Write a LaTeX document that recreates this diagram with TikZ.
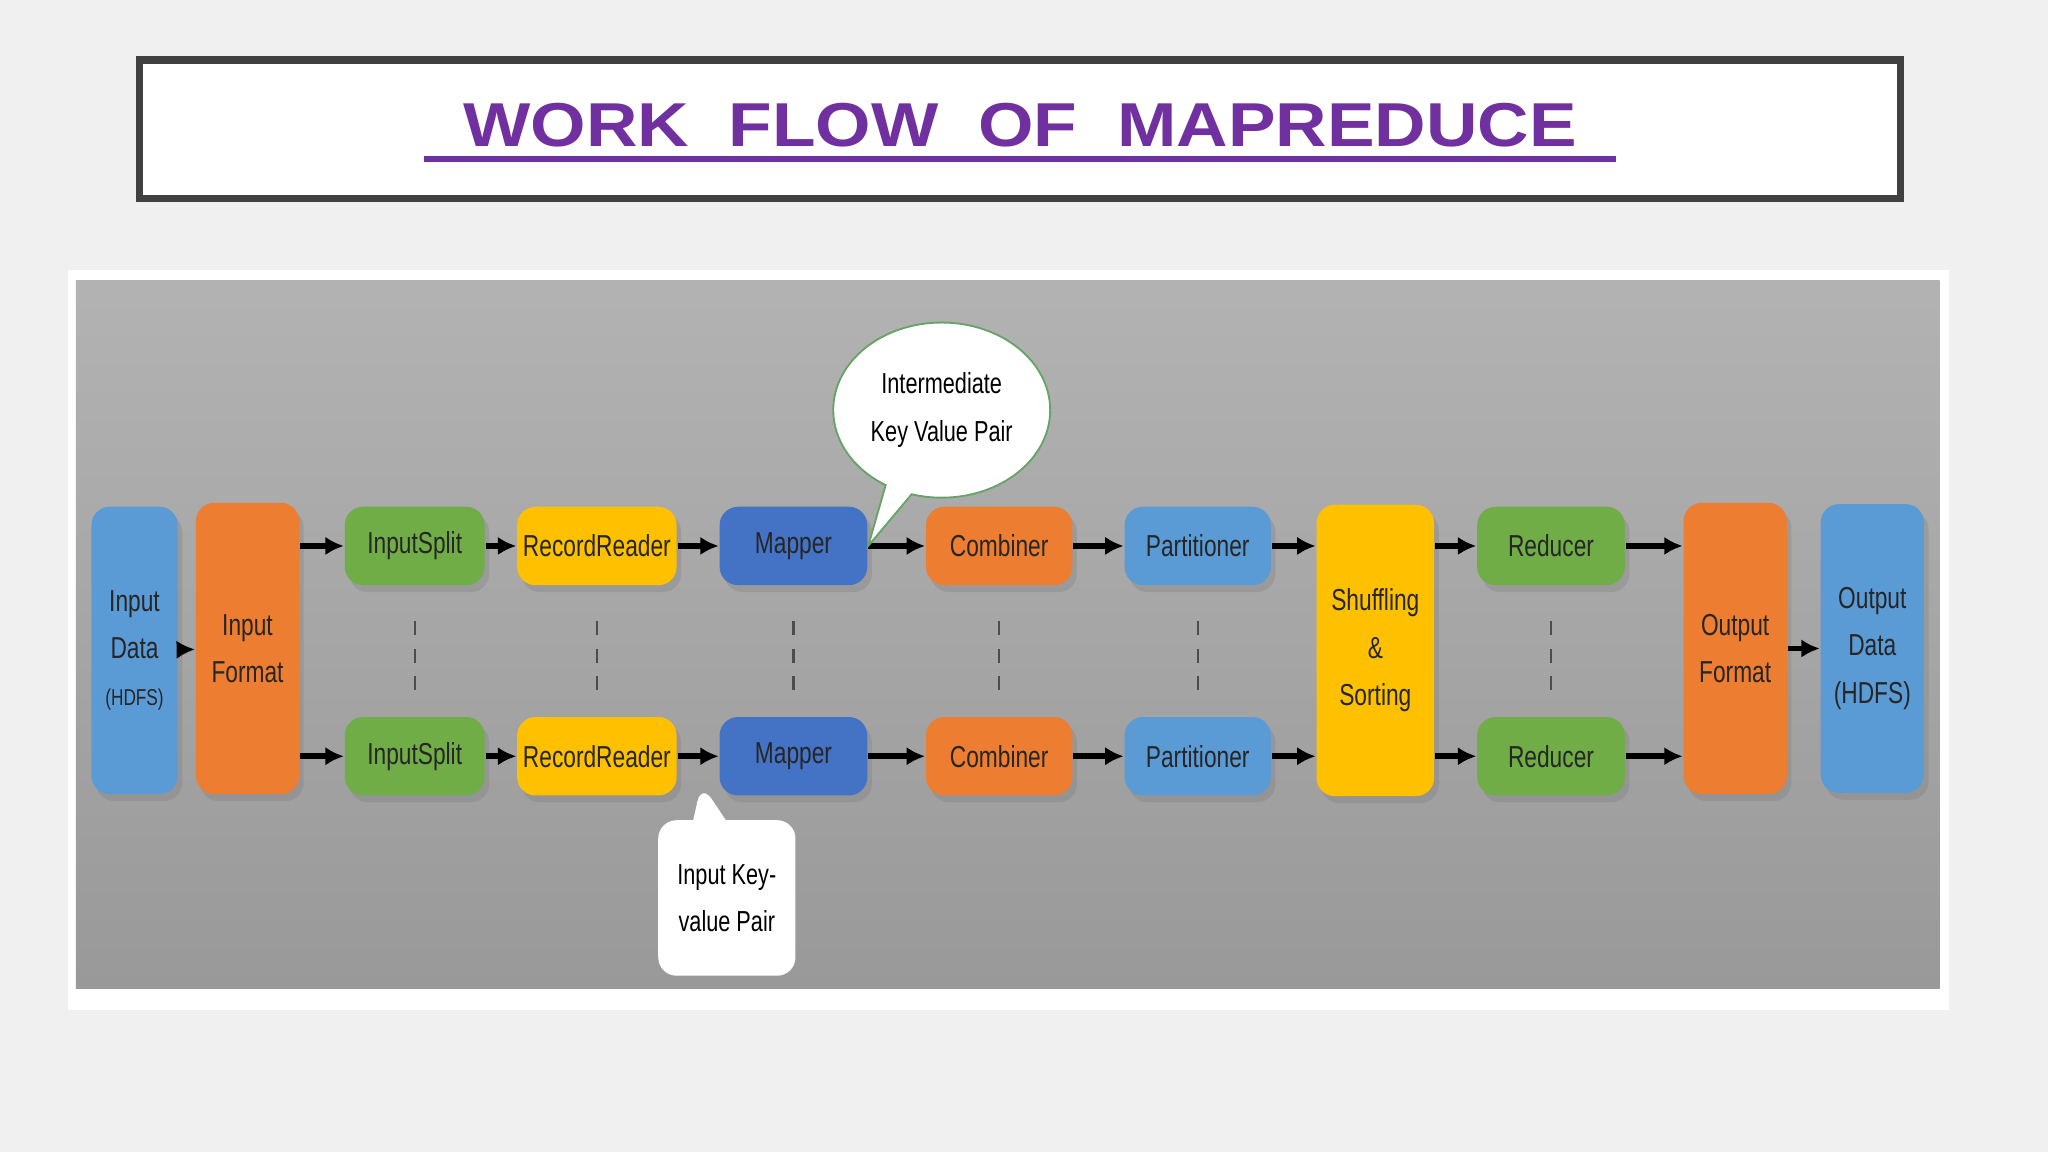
\documentclass[tikz,border=0pt]{standalone}
\usepackage{fontspec}
\setmainfont{Liberation Sans}
\newfontfamily\boxfont{Liberation Sans}[FakeStretch=0.75]
\newfontfamily\titlefont{Liberation Sans}[FakeStretch=1.15]
\usetikzlibrary{arrows.meta,shapes.callouts,shadows}
\definecolor{bgray}{HTML}{F0F0F0}
\definecolor{ttlpurple}{HTML}{7030A0}
\definecolor{cblue}{HTML}{5B9BD5}
\definecolor{cdblue}{HTML}{4472C4}
\definecolor{corange}{HTML}{ED7D31}
\definecolor{cgreen}{HTML}{70AD47}
\definecolor{cyellow}{HTML}{FFC000}

\begin{document}
\begin{tikzpicture}[x=0.01cm,y=-0.01cm,
  stage/.style={rounded corners=4pt,inner sep=0pt,align=center,text=black!85,
    font=\boxfont\fontsize{6.6}{10.3}\selectfont,
    drop shadow={shadow xshift=1pt,shadow yshift=-1.5pt,opacity=0.35}},
  flow/.style={-{Latex[length=4pt,width=4pt]},line width=1.2pt},
  gap/.style={dashed,black!70,line width=0.5pt}]
\useasboundingbox (0,0) rectangle (1568,882);
\fill [bgray] (0,0) rectangle (1568,882);

% title
\draw [fill=white,draw=black!75,line width=1.6pt] (107,46) rectangle (1455,152);
\node (title) at (781,96) [text=ttlpurple,font=\titlefont\bfseries\fontsize{13.5}{16}\selectfont]
  {WORK\ \ FLOW\ \ OF\ \ MAPREDUCE};
\draw [ttlpurple,line width=1.3pt] (325,122) -- (1237,122);

% panel
\fill [white] (52,207) rectangle (1492,773);
\shade [top color=black!30,bottom color=black!40] (58,215) rectangle (1485,757);

% stages
\node (indata) at (103,498) [stage,fill=cblue,minimum width=0.66cm,minimum height=2.2cm] {Input\\Data\\{\fontsize{5}{9}\selectfont(HDFS)}};
\node (infmt) at (189.5,496.5) [stage,fill=corange,minimum width=0.79cm,minimum height=2.23cm] {Input\\Format};
\node (split1) at (317.5,418) [stage,fill=cgreen,minimum width=1.07cm,minimum height=0.6cm] {InputSplit};
\node (split2) at (317.5,579) [stage,fill=cgreen,minimum width=1.07cm,minimum height=0.6cm] {InputSplit};
\node (rr1) at (457,418) [stage,fill=cyellow,minimum width=1.22cm,minimum height=0.6cm] {RecordReader};
\node (rr2) at (457,579) [stage,fill=cyellow,minimum width=1.22cm,minimum height=0.6cm] {RecordReader};
\node (map1) at (607.5,418) [stage,fill=cdblue,minimum width=1.13cm,minimum height=0.6cm] {Mapper};
\node (map2) at (607.5,579) [stage,fill=cdblue,minimum width=1.13cm,minimum height=0.6cm] {Mapper};
\node (comb1) at (765,418) [stage,fill=corange,minimum width=1.12cm,minimum height=0.6cm] {Combiner};
\node (comb2) at (765,579) [stage,fill=corange,minimum width=1.12cm,minimum height=0.6cm] {Combiner};
\node (part1) at (917,418) [stage,fill=cblue,minimum width=1.12cm,minimum height=0.6cm] {Partitioner};
\node (part2) at (917,579) [stage,fill=cblue,minimum width=1.12cm,minimum height=0.6cm] {Partitioner};
\node (shuf) at (1053,498) [stage,fill=cyellow,minimum width=0.9cm,minimum height=2.23cm] {Shuffling\\\&\\Sorting};
\node (red1) at (1187.5,418) [stage,fill=cgreen,minimum width=1.13cm,minimum height=0.6cm] {Reducer};
\node (red2) at (1187.5,579) [stage,fill=cgreen,minimum width=1.13cm,minimum height=0.6cm] {Reducer};
\node (outfmt) at (1328.5,496.5) [stage,fill=corange,minimum width=0.79cm,minimum height=2.23cm] {Output\\Format};
\node (outdata) at (1433.5,496.5) [stage,fill=cblue,minimum width=0.79cm,minimum height=2.21cm] {Output\\Data\\(HDFS)};

% arrows
\draw [flow] (indata) -- (infmt);
\draw [flow] (infmt.east |- split1) -- (split1);
\draw [flow] (infmt.east |- split2) -- (split2);
\foreach \a/\b in {split/rr,rr/map,map/comb,comb/part} {
  \draw [flow] (\a1) -- (\b1);
  \draw [flow] (\a2) -- (\b2);
}
\draw [flow] (part1) -- (shuf.west |- part1);
\draw [flow] (part2) -- (shuf.west |- part2);
\draw [flow] (shuf.east |- red1) -- (red1);
\draw [flow] (shuf.east |- red2) -- (red2);
\draw [flow] (red1) -- (outfmt.west |- red1);
\draw [flow] (red2) -- (outfmt.west |- red2);
\draw [flow] (outfmt.east |- outdata) -- (outdata);

% dotted gaps
\foreach \n in {split,rr,map,comb,part,red}
  \draw [gap] (\n1.south) ++(0,27) -- ++(0,55);

% callouts
\node (midkv) at (721,314) [ellipse callout,fill=white,draw=green!40!black!60,inner sep=0pt,
  minimum width=1.66cm,minimum height=1.34cm,align=center,
  font=\boxfont\fontsize{6.3}{10.3}\selectfont,
  callout absolute pointer={(map1.east)}] {Intermediate\\Key Value Pair};
\node (inkv) at (556.5,687.5) [rectangle callout,fill=white,rounded corners=4pt,inner sep=0pt,
  minimum width=1.05cm,minimum height=1.19cm,align=center,
  font=\boxfont\fontsize{6.3}{10.3}\selectfont,
  callout absolute pointer={(537,600)}] {Input Key-\\value Pair};
\end{tikzpicture}
\end{document}
